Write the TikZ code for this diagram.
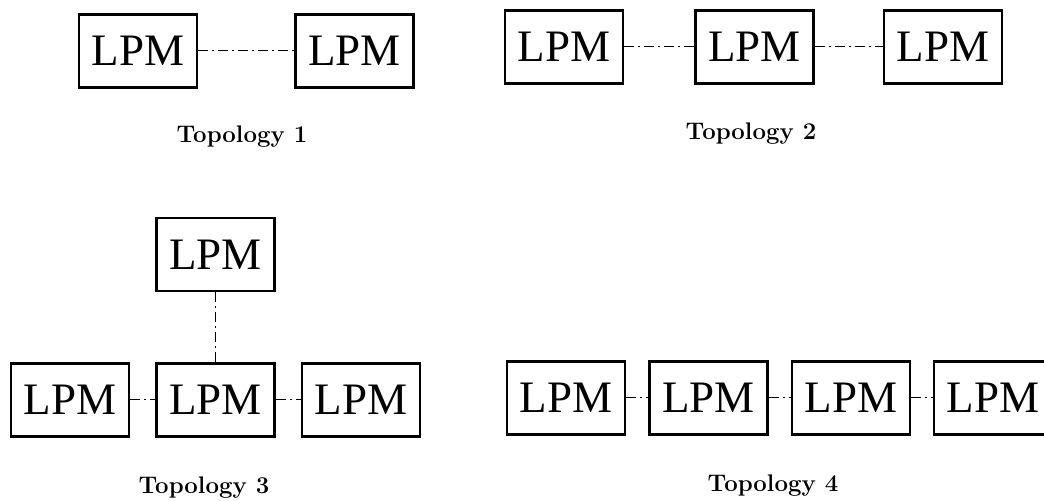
\documentclass[tikz,border=0pt]{standalone}
\usepackage{fontspec}
\newfontfamily\lpmfont{Liberation Serif}
\usetikzlibrary{positioning}
\tikzstyle{Box} = [
draw,
line width=1.2pt,
minimum width=59pt,
minimum height=36.5pt,
inner sep=0pt,
font=\lpmfont\fontsize{22.5}{27}\selectfont]
\tikzstyle{Link} = [
line width=0.5pt,
dash pattern=on 5pt off 2pt on 1pt off 2pt]
\tikzstyle{Caption} = [
font=\bfseries\fontsize{12}{14}\selectfont]

\begin{document}
\begin{tikzpicture}[x=0.5pt, y=-0.5pt]
    \useasboundingbox (0,0) rectangle (1044,501);
    % Topology 1
    \node [Box] (11) at (138,51) {LPM};
    \node [Box, right =48pt of 11] (12) {LPM};
    \node [Caption] (c1) at (242,137) {Topology 1};
    % Topology 2
    \node [Box] (21) at (564,47) {LPM};
    \node [Box, right =35pt of 21] (22) {LPM};
    \node [Box, right =34pt of 22] (23) {LPM};
    \node [Caption] (c2) at (751,134) {Topology 2};
    % Topology 3
    \node [Box] (31) at (70,400) {LPM};
    \node [Box, right =12.5pt of 31] (32) {LPM};
    \node [Box, right =12.5pt of 32] (33) {LPM};
    \node [Box, above =35pt of 32] (34) {LPM};
    \node [Caption] (c3) at (204,488) {Topology 3};
    % Topology 4
    \node [Box] (41) at (566,398) {LPM};
    \node [Box, right =11pt of 41] (42) {LPM};
    \node [Box, right =11pt of 42] (43) {LPM};
    \node [Box, right =11pt of 43] (44) {LPM};
    \node [Caption] (c4) at (773,486) {Topology 4};

    \draw[Link] (11.east)--(12.west);
    \draw[Link] (21.east)--(22.west);
    \draw[Link] (22.east)--(23.west);
    \draw[Link] (31.east)--(32.west);
    \draw[Link] (32.east)--(33.west);
    \draw[Link] (34.south)--(32.north);
    \draw[Link] (41.east)--(42.west);
    \draw[Link] (42.east)--(43.west);
    \draw[Link] (43.east)--(44.west);
\end{tikzpicture}
\end{document}
